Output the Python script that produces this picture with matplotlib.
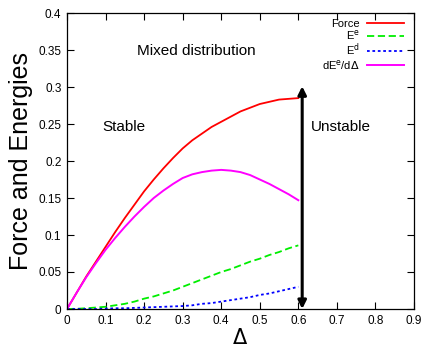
import matplotlib
matplotlib.use("Agg")
import matplotlib.pyplot as plt

plt.rcParams['font.family'] = ['Liberation Sans', 'DejaVu Sans']

delta = [0.0, 0.025, 0.05, 0.075, 0.1, 0.125, 0.15, 0.175, 0.2, 0.225, 0.25, 0.275, 0.3,
         0.325, 0.35, 0.375, 0.4, 0.425, 0.45, 0.475, 0.5, 0.525, 0.55, 0.575, 0.6]
force = [0.0, 0.022, 0.044, 0.064, 0.084, 0.104, 0.123, 0.141, 0.159, 0.175, 0.190, 0.204, 0.217,
         0.228, 0.237, 0.246, 0.253, 0.260, 0.267, 0.272, 0.277, 0.280, 0.283, 0.284, 0.285]
e_el = [0.0, 0.0003, 0.001, 0.002, 0.003, 0.005, 0.007, 0.010, 0.014, 0.017, 0.021, 0.025, 0.030,
        0.035, 0.040, 0.045, 0.050, 0.054, 0.059, 0.064, 0.068, 0.073, 0.077, 0.082, 0.086]
e_d = [0.0, 0.0, 0.0, 0.0, 0.0005, 0.001, 0.001, 0.0015, 0.002, 0.0025, 0.003, 0.0035, 0.004,
       0.005, 0.007, 0.008, 0.010, 0.012, 0.014, 0.016, 0.019, 0.021, 0.024, 0.027, 0.030]
de_dd = [0.0, 0.022, 0.043, 0.062, 0.080, 0.096, 0.111, 0.125, 0.138, 0.150, 0.160, 0.169, 0.177,
         0.182, 0.185, 0.187, 0.188, 0.187, 0.185, 0.181, 0.175, 0.169, 0.162, 0.155, 0.147]

xticks = [0, 0.1, 0.2, 0.3, 0.4, 0.5, 0.6, 0.7, 0.8, 0.9]
xticklabels = ['0', '0.1', '0.2', '0.3', '0.4', '0.5', '0.6', '0.7', '0.8', '0.9']
yticks = [0, 0.05, 0.1, 0.15, 0.2, 0.25, 0.3, 0.35, 0.4]
yticklabels = ['0', '0.05', '0.1', '0.15', '0.2', '0.25', '0.3', '0.35', '0.4']

fig = plt.figure(figsize=(4.36, 3.48), dpi=100)
ax = fig.add_axes([67/436, 1 - 309/348, 347/436, 296/348])

ax.plot(delta, force, color='#ff0000', lw=1.3, label='Force')
ax.plot(delta, e_el, color='#00ee00', lw=1.3, ls=(0, (4, 2)), label='E$^{\\mathrm{e}}$')
ax.plot(delta, e_d, color='#0000ff', lw=1.3, ls=(0, (1.5, 1.5)), label='E$^{\\mathrm{d}}$')
ax.plot(delta, de_dd, color='#ff00ff', lw=1.4, label='dE$^{\\mathrm{e}}$/d$\\Delta$')

ax.annotate('', xy=(0.61, 0.0), xytext=(0.61, 0.301),
            arrowprops=dict(arrowstyle='<|-|>', color='black', lw=2.2,
                            mutation_scale=12, shrinkA=0, shrinkB=0))

ax.text(0.335, 0.349, 'Mixed distribution', ha='center', va='center', fontsize=11)
ax.text(0.148, 0.246, 'Stable', ha='center', va='center', fontsize=11)
ax.text(0.71, 0.246, 'Unstable', ha='center', va='center', fontsize=11)

ax.set_xlim(0, 0.9)
ax.set_ylim(0, 0.4)
ax.set_xticks(xticks)
ax.set_xticklabels(xticklabels)
ax.set_yticks(yticks)
ax.set_yticklabels(yticklabels)
ax.tick_params(direction='in', top=True, right=True, length=5, width=0.8, labelsize=8.5, pad=4)
for s in ax.spines.values():
    s.set_linewidth(0.9)

ax.set_xlabel('$\\Delta$', fontsize=15, labelpad=1)
ax.set_ylabel('Force and Energies', fontsize=18, labelpad=4)

leg = ax.legend(loc='upper right', frameon=False, fontsize=8, markerfirst=False,
                handlelength=3.4, handletextpad=0.6, labelspacing=-0.05,
                borderaxespad=0.0, bbox_to_anchor=(0.985, 0.995))
for t in leg.get_texts():
    t.set_ha('right')

fig.savefig('out.png', dpi=100)
